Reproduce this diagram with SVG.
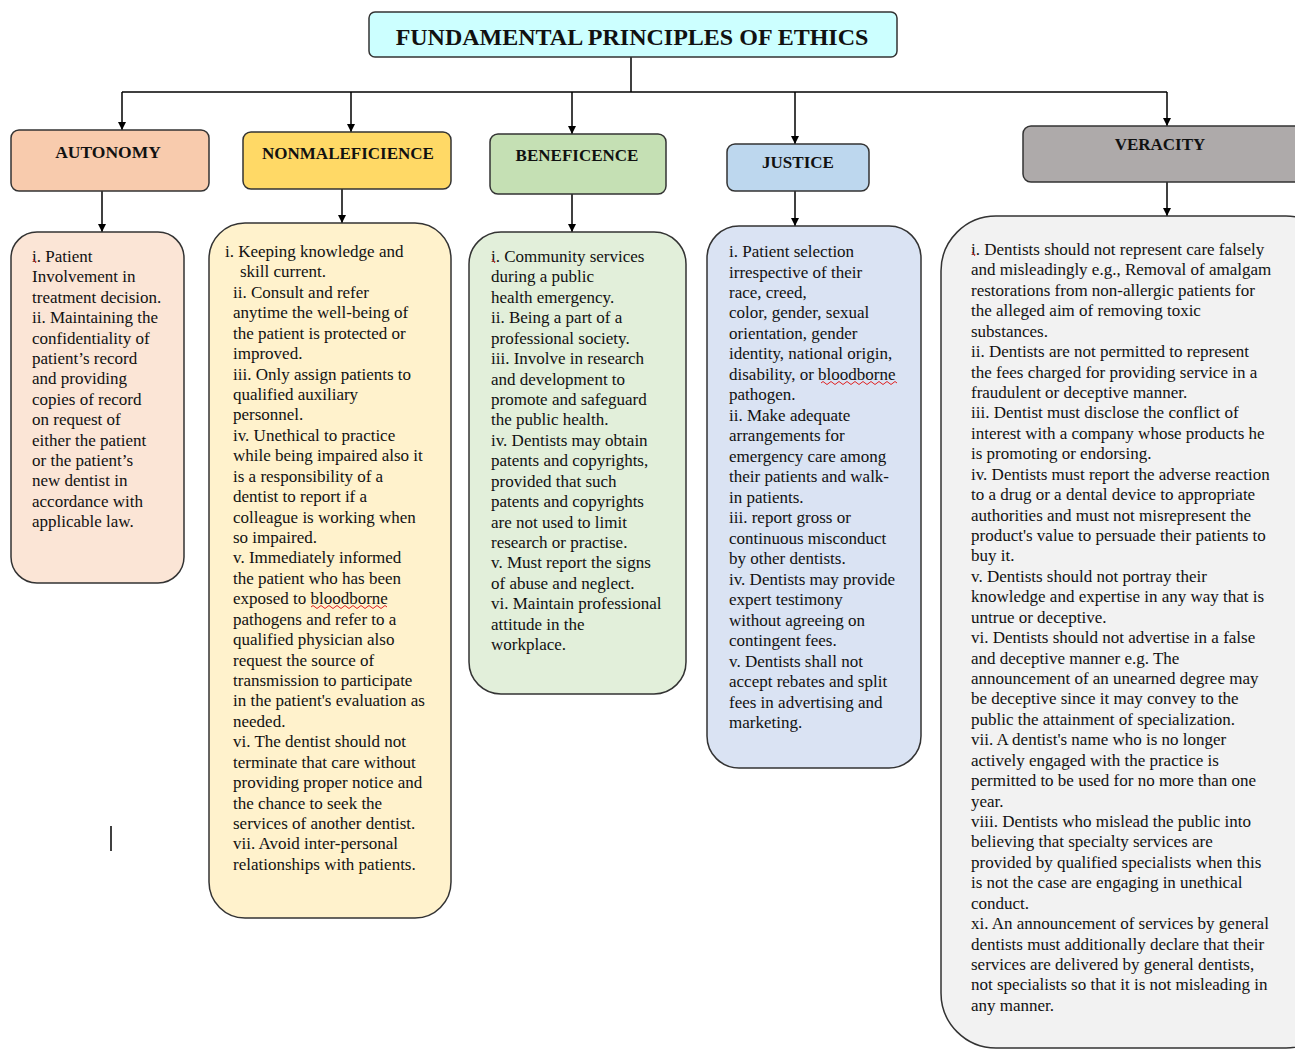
<svg xmlns="http://www.w3.org/2000/svg" width="1295" height="1050" viewBox="0 0 1295 1050">
<defs>
<marker id="arr" viewBox="0 0 10 10" refX="10" refY="5" markerWidth="8" markerHeight="8" markerUnits="userSpaceOnUse" orient="auto">
<path d="M0,0 L10,5 L0,10 Z" fill="#000"/>
</marker>
<style>
.box{stroke:#333;stroke-width:1.5}
.hd{font-family:"Liberation Serif","Times New Roman",serif;font-weight:bold;fill:#111;text-anchor:middle}
.tx{font-family:"Liberation Serif","Times New Roman",serif;font-size:17px;fill:#111}
.ln{stroke:#000;stroke-width:1.5;fill:none}
.sq{stroke:#e02020;stroke-width:1;fill:none}
</style>
</defs>
<rect width="1295" height="1050" fill="#fff"/>

<g id="connectors">
<line class="ln" x1="631" y1="57" x2="631" y2="92"/>
<line class="ln" x1="122" y1="92" x2="1167" y2="92"/>
<line class="ln" x1="122" y1="92" x2="122" y2="130" marker-end="url(#arr)"/>
<line class="ln" x1="351" y1="92" x2="351" y2="132" marker-end="url(#arr)"/>
<line class="ln" x1="572" y1="92" x2="572" y2="134" marker-end="url(#arr)"/>
<line class="ln" x1="795" y1="92" x2="795" y2="144" marker-end="url(#arr)"/>
<line class="ln" x1="1167" y1="92" x2="1167" y2="126" marker-end="url(#arr)"/>
<line class="ln" x1="102" y1="191" x2="102" y2="232" marker-end="url(#arr)"/>
<line class="ln" x1="342" y1="189" x2="342" y2="223" marker-end="url(#arr)"/>
<line class="ln" x1="572" y1="194" x2="572" y2="232" marker-end="url(#arr)"/>
<line class="ln" x1="795" y1="191" x2="795" y2="226" marker-end="url(#arr)"/>
<line class="ln" x1="1167" y1="182" x2="1167" y2="216" marker-end="url(#arr)"/>
</g>

<g id="title">
<rect class="box" x="369" y="12" width="528" height="45" rx="6" fill="#CCFFFF"/>
<text class="hd" x="632" y="45" font-size="24">FUNDAMENTAL PRINCIPLES OF ETHICS</text>
</g>

<g id="autonomy">
<rect class="box" x="11" y="130" width="198" height="61" rx="8" fill="#F8CBAD"/>
<text class="hd" x="108" y="158" font-size="17.5">AUTONOMY</text>
</g>
<g id="nonmaleficience">
<rect class="box" x="243" y="132" width="208" height="57" rx="8" fill="#FFD966"/>
<text class="hd" x="348" y="159" font-size="17">NONMALEFICIENCE</text>
</g>
<g id="beneficence">
<rect class="box" x="490" y="134" width="176" height="60" rx="8" fill="#C5E0B4"/>
<text class="hd" x="577" y="161" font-size="17">BENEFICENCE</text>
</g>
<g id="justice">
<rect class="box" x="727" y="144" width="142" height="47" rx="8" fill="#BDD7EE"/>
<text class="hd" x="798" y="168" font-size="17">JUSTICE</text>
</g>
<g id="veracity">
<rect class="box" x="1023" y="126" width="290" height="56" rx="8" fill="#AEAAAA"/>
<text class="hd" x="1160" y="150" font-size="17">VERACITY</text>
</g>

<g id="autonomy-details">
<rect class="box" x="11" y="232" width="173" height="351" rx="26" fill="#FBE5D6"/>
<text class="tx">
<tspan x="32" y="262">i. Patient</tspan>
<tspan x="32" y="282.4">Involvement in</tspan>
<tspan x="32" y="302.8">treatment decision.</tspan>
<tspan x="32" y="323.2">ii. Maintaining the</tspan>
<tspan x="32" y="343.6">confidentiality of</tspan>
<tspan x="32" y="364">patient’s record</tspan>
<tspan x="32" y="384.4">and providing</tspan>
<tspan x="32" y="404.8">copies of record</tspan>
<tspan x="32" y="425.2">on request of</tspan>
<tspan x="32" y="445.6">either the patient</tspan>
<tspan x="32" y="466">or the patient’s</tspan>
<tspan x="32" y="486.4">new dentist in</tspan>
<tspan x="32" y="506.8">accordance with</tspan>
<tspan x="32" y="527.2">applicable law.</tspan>
</text>
<path class="sq" d="M33,259 l3,4"/>
</g>

<g id="nonmaleficience-details">
<rect class="box" x="209" y="223" width="242" height="695" rx="36" fill="#FFF2CC"/>
<text class="tx">
<tspan x="225" y="257">i. Keeping knowledge and</tspan>
<tspan x="240" y="277.4">skill current.</tspan>
<tspan x="233" y="297.9">ii. Consult and refer</tspan>
<tspan x="233" y="318.3">anytime the well-being of</tspan>
<tspan x="233" y="338.7">the patient is protected or</tspan>
<tspan x="233" y="359.2">improved.</tspan>
<tspan x="233" y="379.6">iii. Only assign patients to</tspan>
<tspan x="233" y="400">qualified auxiliary</tspan>
<tspan x="233" y="420.4">personnel.</tspan>
<tspan x="233" y="440.9">iv. Unethical to practice</tspan>
<tspan x="233" y="461.3">while being impaired also it</tspan>
<tspan x="233" y="481.7">is a responsibility of a</tspan>
<tspan x="233" y="502.2">dentist to report if a</tspan>
<tspan x="233" y="522.6">colleague is working when</tspan>
<tspan x="233" y="543">so impaired.</tspan>
<tspan x="233" y="563.4">v. Immediately informed</tspan>
<tspan x="233" y="583.9">the patient who has been</tspan>
<tspan x="233" y="604.3">exposed to bloodborne</tspan>
<tspan x="233" y="624.7">pathogens and refer to a</tspan>
<tspan x="233" y="645.2">qualified physician also</tspan>
<tspan x="233" y="665.6">request the source of</tspan>
<tspan x="233" y="686">transmission to participate</tspan>
<tspan x="233" y="706.4">in the patient's evaluation as</tspan>
<tspan x="233" y="726.9">needed.</tspan>
<tspan x="233" y="747.3">vi. The dentist should not</tspan>
<tspan x="233" y="767.7">terminate that care without</tspan>
<tspan x="233" y="788.2">providing proper notice and</tspan>
<tspan x="233" y="808.6">the chance to seek the</tspan>
<tspan x="233" y="829">services of another dentist.</tspan>
<tspan x="233" y="849.4">vii. Avoid inter-personal</tspan>
<tspan x="233" y="869.9">relationships with patients.</tspan>
</text>
<path class="sq" d="M311,607 q2,-3 4,0 t4,0 t4,0 t4,0 t4,0 t4,0 t4,0 t4,0 t4,0 t4,0 t4,0 t4,0 t4,0 t4,0 t4,0 t4,0 t4,0 t4,0 t4,0"/>
</g>

<g id="beneficence-details">
<rect class="box" x="469" y="232" width="217" height="462" rx="32" fill="#E2EFDA"/>
<text class="tx">
<tspan x="491" y="262">i. Community services</tspan>
<tspan x="491" y="282.4">during a public</tspan>
<tspan x="491" y="302.8">health emergency.</tspan>
<tspan x="491" y="323.3">ii. Being a part of a</tspan>
<tspan x="491" y="343.7">professional society.</tspan>
<tspan x="491" y="364.1">iii. Involve in research</tspan>
<tspan x="491" y="384.5">and development to</tspan>
<tspan x="491" y="404.9">promote and safeguard</tspan>
<tspan x="491" y="425.4">the public health.</tspan>
<tspan x="491" y="445.8">iv. Dentists may obtain</tspan>
<tspan x="491" y="466.2">patents and copyrights,</tspan>
<tspan x="491" y="486.6">provided that such</tspan>
<tspan x="491" y="507">patents and copyrights</tspan>
<tspan x="491" y="527.5">are not used to limit</tspan>
<tspan x="491" y="547.9">research or practise.</tspan>
<tspan x="491" y="568.3">v. Must report the signs</tspan>
<tspan x="491" y="588.7">of abuse and neglect.</tspan>
<tspan x="491" y="609.1">vi. Maintain professional</tspan>
<tspan x="491" y="629.6">attitude in the</tspan>
<tspan x="491" y="650">workplace.</tspan>
</text>
<path class="sq" d="M492,259 l3,4"/>
</g>

<g id="justice-details">
<rect class="box" x="707" y="226" width="214" height="542" rx="32" fill="#DAE3F3"/>
<text class="tx">
<tspan x="729" y="257">i. Patient selection</tspan>
<tspan x="729" y="277.5">irrespective of their</tspan>
<tspan x="729" y="298">race, creed,</tspan>
<tspan x="729" y="318.4">color, gender, sexual</tspan>
<tspan x="729" y="338.9">orientation, gender</tspan>
<tspan x="729" y="359.4">identity, national origin,</tspan>
<tspan x="729" y="379.9">disability, or bloodborne</tspan>
<tspan x="729" y="400.4">pathogen.</tspan>
<tspan x="729" y="420.8">ii. Make adequate</tspan>
<tspan x="729" y="441.3">arrangements for</tspan>
<tspan x="729" y="461.8">emergency care among</tspan>
<tspan x="729" y="482.3">their patients and walk-</tspan>
<tspan x="729" y="502.8">in patients.</tspan>
<tspan x="729" y="523.2">iii. report gross or</tspan>
<tspan x="729" y="543.7">continuous misconduct</tspan>
<tspan x="729" y="564.2">by other dentists.</tspan>
<tspan x="729" y="584.7">iv. Dentists may provide</tspan>
<tspan x="729" y="605.2">expert testimony</tspan>
<tspan x="729" y="625.6">without agreeing on</tspan>
<tspan x="729" y="646.1">contingent fees.</tspan>
<tspan x="729" y="666.6">v. Dentists shall not</tspan>
<tspan x="729" y="687.1">accept rebates and split</tspan>
<tspan x="729" y="707.6">fees in advertising and</tspan>
<tspan x="729" y="728">marketing.</tspan>
</text>
<path class="sq" d="M821,383 q2,-3 4,0 t4,0 t4,0 t4,0 t4,0 t4,0 t4,0 t4,0 t4,0 t4,0 t4,0 t4,0 t4,0 t4,0 t4,0 t4,0 t4,0 t4,0 t4,0"/>
</g>

<g id="veracity-details">
<rect class="box" x="941" y="216" width="400" height="832" rx="55" fill="#F2F2F2"/>
<text class="tx">
<tspan x="971" y="255">i. Dentists should not represent care falsely</tspan>
<tspan x="971" y="275.4">and misleadingly e.g., Removal of amalgam</tspan>
<tspan x="971" y="295.9">restorations from non-allergic patients for</tspan>
<tspan x="971" y="316.3">the alleged aim of removing toxic</tspan>
<tspan x="971" y="336.7">substances.</tspan>
<tspan x="971" y="357.2">ii. Dentists are not permitted to represent</tspan>
<tspan x="971" y="377.6">the fees charged for providing service in a</tspan>
<tspan x="971" y="398">fraudulent or deceptive manner.</tspan>
<tspan x="971" y="418.4">iii. Dentist must disclose the conflict of</tspan>
<tspan x="971" y="438.9">interest with a company whose products he</tspan>
<tspan x="971" y="459.3">is promoting or endorsing.</tspan>
<tspan x="971" y="479.7">iv. Dentists must report the adverse reaction</tspan>
<tspan x="971" y="500.2">to a drug or a dental device to appropriate</tspan>
<tspan x="971" y="520.6">authorities and must not misrepresent the</tspan>
<tspan x="971" y="541">product's value to persuade their patients to</tspan>
<tspan x="971" y="561.4">buy it.</tspan>
<tspan x="971" y="581.9">v. Dentists should not portray their</tspan>
<tspan x="971" y="602.3">knowledge and expertise in any way that is</tspan>
<tspan x="971" y="622.7">untrue or deceptive.</tspan>
<tspan x="971" y="643.2">vi. Dentists should not advertise in a false</tspan>
<tspan x="971" y="663.6">and deceptive manner e.g. The</tspan>
<tspan x="971" y="684">announcement of an unearned degree may</tspan>
<tspan x="971" y="704.4">be deceptive since it may convey to the</tspan>
<tspan x="971" y="724.9">public the attainment of specialization.</tspan>
<tspan x="971" y="745.3">vii. A dentist's name who is no longer</tspan>
<tspan x="971" y="765.7">actively engaged with the practice is</tspan>
<tspan x="971" y="786.2">permitted to be used for no more than one</tspan>
<tspan x="971" y="806.6">year.</tspan>
<tspan x="971" y="827">viii. Dentists who mislead the public into</tspan>
<tspan x="971" y="847.4">believing that specialty services are</tspan>
<tspan x="971" y="867.9">provided by qualified specialists when this</tspan>
<tspan x="971" y="888.3">is not the case are engaging in unethical</tspan>
<tspan x="971" y="908.7">conduct.</tspan>
<tspan x="971" y="929.2">xi. An announcement of services by general</tspan>
<tspan x="971" y="949.6">dentists must additionally declare that their</tspan>
<tspan x="971" y="970">services are delivered by general dentists,</tspan>
<tspan x="971" y="990.4">not specialists so that it is not misleading in</tspan>
<tspan x="971" y="1010.9">any manner.</tspan>
</text>
<path class="sq" d="M972,252 l3,4"/>
</g>

<line x1="111" y1="826" x2="111" y2="851" stroke="#000" stroke-width="1.5"/>
</svg>
